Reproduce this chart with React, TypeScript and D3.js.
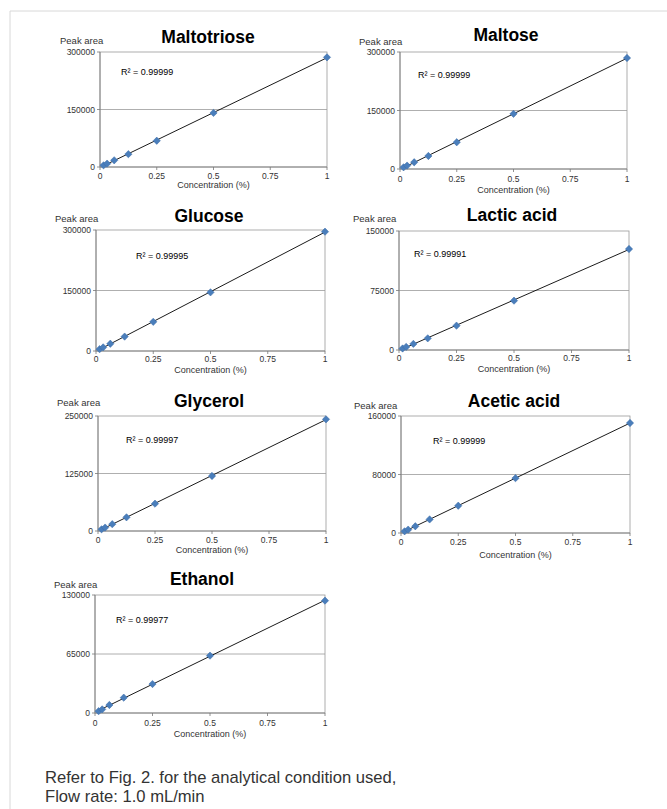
import React from "react";
import * as d3 from "d3";

const concentrations = [0.015625, 0.03125, 0.0625, 0.125, 0.25, 0.5, 1];
const xTicks = [0, 0.25, 0.5, 0.75, 1];

const maltotriose = [4400, 8800, 17500, 33500, 68500, 141000, 286000];
const maltose = [4300, 8700, 17300, 33400, 68600, 141400, 284600];
const glucose = [4500, 9000, 18000, 35700, 72300, 145400, 295800];
const lacticAcid = [1900, 3900, 7700, 14700, 30700, 62200, 127300];
const glycerol = [3700, 7400, 14800, 29700, 59400, 119600, 242800];
const aceticAcid = [2300, 4600, 9200, 18600, 37300, 75000, 150400];
const ethanol = [2000, 4000, 8800, 16900, 31900, 63200, 123800];

const titles = ["Maltotriose", "Maltose", "Glucose", "Lactic acid", "Glycerol", "Acetic acid", "Ethanol"];
const yMaxes = [300000, 300000, 300000, 150000, 250000, 160000, 130000];
const r2Labels = ["R² = 0.99999", "R² = 0.99999", "R² = 0.99995", "R² = 0.99991", "R² = 0.99997", "R² = 0.99999", "R² = 0.99977"];
const seriesList = [maltotriose, maltose, glucose, lacticAcid, glycerol, aceticAcid, ethanol];

const layouts = [
  { x0: 100, x1: 327, y0: 52, y1: 167, tx: 208, ty: 43, px: 60, py: 44, rx: 121, ry: 75, tickY: 179, labY: 188 },
  { x0: 400, x1: 627, y0: 52, y1: 169, tx: 506, ty: 41, px: 359, py: 45, rx: 418, ry: 78, tickY: 182, labY: 193 },
  { x0: 96, x1: 325, y0: 230, y1: 351, tx: 209, ty: 222, px: 55, py: 222, rx: 136, ry: 259, tickY: 362, labY: 373 },
  { x0: 399, x1: 629, y0: 231, y1: 350, tx: 512, ty: 221, px: 353, py: 222, rx: 414, ry: 257, tickY: 361, labY: 372 },
  { x0: 98, x1: 326, y0: 416, y1: 531, tx: 209, ty: 407, px: 57, py: 406, rx: 126, ry: 443, tickY: 543, labY: 553 },
  { x0: 401, x1: 630, y0: 416, y1: 533, tx: 514, ty: 407, px: 354, py: 409, rx: 433, ry: 444, tickY: 545, labY: 558 },
  { x0: 95, x1: 325, y0: 595, y1: 713, tx: 202, ty: 585, px: 54, py: 588, rx: 116, ry: 623, tickY: 726, labY: 737 },
];

const FONT = "Liberation Sans, Arial, sans-serif";

function fmtX(v: number) {
  return v === 0 ? "0" : String(v);
}

function Panel({ idx }: { idx: number }) {
  const L = layouts[idx];
  const values = seriesList[idx];
  const yMax = yMaxes[idx];
  const x = d3.scaleLinear().domain([0, 1]).range([L.x0, L.x1]);
  const y = d3.scaleLinear().domain([0, yMax]).range([L.y1, L.y0]);
  const yTicks = [0, yMax / 2, yMax];
  const pts = concentrations.map((c, i) => [c, values[i]] as [number, number]);
  const mx = d3.mean(pts, (p) => p[0])!;
  const my = d3.mean(pts, (p) => p[1])!;
  const slope = d3.sum(pts, (p) => (p[0] - mx) * (p[1] - my)) / d3.sum(pts, (p) => (p[0] - mx) ** 2);
  const intercept = my - slope * mx;
  const fitX = [d3.min(concentrations)!, d3.max(concentrations)!];
  const line = d3
    .line<number>()
    .x((c) => x(c))
    .y((c) => y(intercept + slope * c));
  const diamond = d3.symbol().type(d3.symbolDiamond2).size(34)();
  return (
    <g>
      <text x={L.tx} y={L.ty} textAnchor="middle" fontFamily={FONT} fontWeight="bold" fontSize={17.5} fill="#000">
        {titles[idx]}
      </text>
      <text x={L.px} y={L.py} fontFamily={FONT} fontSize={9.5} fill="#333">
        Peak area
      </text>
      <rect x={L.x0} y={L.y0} width={L.x1 - L.x0} height={L.y1 - L.y0} fill="none" stroke="#999" strokeWidth={0.8} />
      {yTicks.slice(1, 2).map((t) => (
        <line key={t} x1={L.x0} x2={L.x1} y1={y(t)} y2={y(t)} stroke="#9a9a9a" strokeWidth={0.8} />
      ))}
      <line x1={L.x0} x2={L.x0} y1={L.y0} y2={L.y1} stroke="#777" strokeWidth={0.8} />
      <line x1={L.x0} x2={L.x1} y1={L.y1} y2={L.y1} stroke="#777" strokeWidth={0.8} />
      {yTicks.map((t) => (
        <g key={"y" + t}>
          <line x1={L.x0 - 3} x2={L.x0} y1={y(t)} y2={y(t)} stroke="#777" strokeWidth={0.8} />
          <text x={L.x0 - 5} y={y(t) + 3} textAnchor="end" fontFamily={FONT} fontSize={8.5} fill="#333">
            {String(t)}
          </text>
        </g>
      ))}
      {xTicks.map((t) => (
        <g key={"x" + t}>
          <line x1={x(t)} x2={x(t)} y1={L.y1} y2={L.y1 + 3} stroke="#777" strokeWidth={0.8} />
          <text x={x(t)} y={L.tickY} textAnchor="middle" fontFamily={FONT} fontSize={8.5} fill="#333">
            {fmtX(t)}
          </text>
        </g>
      ))}
      <text x={(L.x0 + L.x1) / 2} y={L.labY} textAnchor="middle" fontFamily={FONT} fontSize={9} fill="#333">
        Concentration (%)
      </text>
      <path d={line(fitX) || ""} stroke="#000" strokeWidth={0.9} fill="none" />
      {pts.map((p, i) => (
        <path key={i} d={diamond || ""} transform={`translate(${x(p[0])},${y(p[1])})`} fill="#4a7ebb" stroke="#3a6aa6" strokeWidth={0.5} />
      ))}
      <text x={L.rx} y={L.ry} fontFamily={FONT} fontSize={9} fill="#000">
        {r2Labels[idx]}
      </text>
    </g>
  );
}

export default function App() {
  return (
    <svg width={667} height={809} style={{ position: "absolute", left: 0, top: 0, background: "#fff" }}>
      <rect x={0} y={0} width={667} height={809} fill="#fff" />
      <line x1={10} x2={667} y1={11} y2={11} stroke="#d8d8d8" strokeWidth={1} />
      <line x1={10} x2={10} y1={11} y2={809} stroke="#d8d8d8" strokeWidth={1} />
      {titles.map((_, i) => (
        <Panel key={i} idx={i} />
      ))}
      <text x={45} y={783} fontFamily={FONT} fontSize={16.6} fill="#333">
        Refer to Fig. 2. for the analytical condition used,
      </text>
      <text x={45} y={802} fontFamily={FONT} fontSize={16.6} fill="#333">
        Flow rate: 1.0 mL/min
      </text>
    </svg>
  );
}
